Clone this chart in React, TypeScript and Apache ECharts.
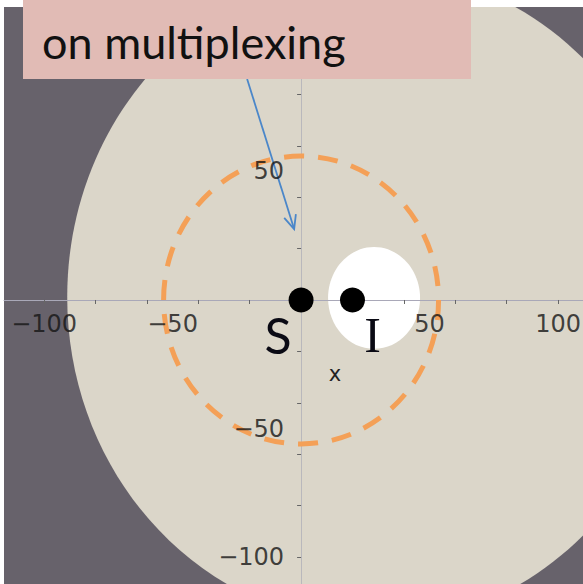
import React, { useEffect, useRef } from "react";
import * as echarts from "echarts";

// axis ranges and tick labels
const xRange = [-115.6, 109.7];
const yRange = [-110.5, 114];
const xTickLabels = [-100, -50, 50, 100];
const yTickLabels = [-100, -50, 50];
const xMinorTicks = [-100, -80, -60, -40, -20, 20, 40, 60, 80, 100];
const yMinorTicks = [-100, -80, -60, -40, -20, 20, 40, 60, 80, 100];

// regions: [centerX, centerY, radiusX, radiusY]
const allowedRegion = [28.2, 1.2, 119.2, 127.2];
const forbiddenDisk = [28.4, 0.8, 17.9, 19.8];
const dashedCircle = [0, 0, 53.5, 56.0];

// points
const dotNames = ["S", "I"];
const dotX = [0, 20];
const dotY = [0, 0];

// annotation arrow: [x0, y0, x1, y1]
const arrow = [-21, 86, -2.7, 27.6];
const noteLine = "on multiplexing";

export default function App() {
  const ref = useRef<HTMLDivElement>(null);
  useEffect(() => {
    if (!ref.current) return;
    const chart = echarts.init(ref.current, undefined, { renderer: "svg" });
    const ellipseRender = (fill: string, stroke?: boolean) => (params: any, api: any) => {
      const c = api.coord([api.value(0), api.value(1)]);
      const s = api.size([api.value(2), api.value(3)]);
      return {
        type: "ellipse",
        shape: { cx: c[0], cy: c[1], rx: s[0], ry: s[1] },
        style: stroke
          ? { fill: "none", stroke: fill, lineWidth: 5, lineDash: [20, 14] }
          : { fill },
      };
    };
    const tickLabelStyle = {
      fontFamily: "DejaVu Sans",
      fontSize: 24,
      color: "#141414",
    };
    const option: any = {
      animation: false,
      backgroundColor: "#ffffff",
      grid: {
        left: 4,
        top: 7,
        right: 0,
        bottom: 0,
        show: true,
        backgroundColor: "#67626b",
        borderWidth: 0,
        containLabel: false,
        outerBoundsMode: "none",
      },
      xAxis: {
        type: "value",
        min: xRange[0],
        max: xRange[1],
        splitLine: { show: false },
        axisLine: { onZero: true, lineStyle: { color: "#a9a8b8", width: 1 } },
        axisTick: { show: true, length: 4, customValues: xMinorTicks, lineStyle: { color: "#666" } },
        axisLabel: { show: false },
        z: 5,
      },
      yAxis: {
        type: "value",
        min: yRange[0],
        max: yRange[1],
        splitLine: { show: false },
        axisLine: { onZero: true, lineStyle: { color: "#b9b8bc", width: 1 } },
        axisTick: { show: true, length: 4, customValues: yMinorTicks, lineStyle: { color: "#666" } },
        axisLabel: { show: false },
        z: 5,
      },
      series: [
        {
          type: "custom",
          clip: true,
          z: 1,
          renderItem: ellipseRender("#dbd6c9"),
          data: [allowedRegion],
          silent: true,
        },
        {
          type: "custom",
          clip: true,
          z: 2,
          renderItem: ellipseRender("#ffffff"),
          data: [forbiddenDisk],
          silent: true,
        },
        {
          type: "custom",
          clip: true,
          z: 6,
          renderItem: ellipseRender("#f4a057", true),
          data: [dashedCircle],
          silent: true,
        },
        {
          type: "scatter",
          z: 7,
          symbol: "circle",
          symbolSize: 2,
          itemStyle: { color: "rgba(0,0,0,0)" },
          silent: true,
          data: xTickLabels.map((v) => [v, 0]),
          label: {
            show: true,
            position: "bottom",
            distance: 11,
            formatter: (p: any) => String(p.value[0]).replace("-", "\u2212"),
            ...tickLabelStyle,
          },
        },
        {
          type: "scatter",
          z: 7,
          symbol: "circle",
          symbolSize: 2,
          itemStyle: { color: "rgba(0,0,0,0)" },
          silent: true,
          data: yTickLabels.map((v) => [0, v]),
          label: {
            show: true,
            position: "left",
            distance: 16,
            formatter: (p: any) => String(p.value[1]).replace("-", "\u2212"),
            ...tickLabelStyle,
          },
        },
        {
          type: "custom",
          clip: false,
          z: 7,
          data: [arrow],
          silent: true,
          renderItem: (params: any, api: any) => {
            const p0 = api.coord([api.value(0), api.value(1)]);
            const p1 = api.coord([api.value(2), api.value(3)]);
            const ang = Math.atan2(p1[1] - p0[1], p1[0] - p0[0]);
            const L = 15;
            const a1 = ang + Math.PI - 0.42;
            const a2 = ang + Math.PI + 0.42;
            return {
              type: "group",
              children: [
                {
                  type: "line",
                  shape: { x1: p0[0], y1: p0[1], x2: p1[0], y2: p1[1] },
                  style: { stroke: "#4b87c9", lineWidth: 1.8 },
                },
                {
                  type: "polyline",
                  shape: {
                    points: [
                      [p1[0] + L * Math.cos(a1), p1[1] + L * Math.sin(a1)],
                      [p1[0], p1[1]],
                      [p1[0] + L * Math.cos(a2), p1[1] + L * Math.sin(a2)],
                    ],
                  },
                  style: { stroke: "#4b87c9", lineWidth: 1.8, fill: "none" },
                },
              ],
            };
          },
        },
        {
          type: "scatter",
          z: 8,
          symbol: "circle",
          symbolSize: 25,
          itemStyle: { color: "#000000", opacity: 1 },
          data: dotNames.map((n, i) => ({
            value: [dotX[i], dotY[i]],
            name: n,
            label: {
              show: true,
              formatter: n,
              position: "inside",
              offset: i === 0 ? [-23, 35] : [20, 35],
              fontFamily: i === 0 ? "Lato" : "Liberation Serif",
              fontSize: 50,
              color: "#0a0a14",
            },
          })),
        },
      ],
      graphic: [
        {
          type: "rect",
          z: 100,
          shape: { x: 23, y: -10, width: 448, height: 89 },
          style: { fill: "#e1bbb5" },
        },
        {
          type: "text",
          z: 101,
          style: {
            text: noteLine,
            x: 42,
            y: 42,
            verticalAlign: "middle",
            font: "45px Lato",
            fill: "#111111",
          },
        },
        {
          type: "text",
          z: 101,
          style: {
            text: "x",
            x: 335,
            y: 374,
            align: "center",
            verticalAlign: "middle",
            font: "21px 'DejaVu Sans'",
            fill: "#222222",
          },
        },
      ],
    };
    chart.setOption(option);
    return () => chart.dispose();
  }, []);
  return (
    <div
      ref={ref}
      style={{ position: "fixed", left: 0, top: 0, width: 583, height: 584 }}
    />
  );
}
